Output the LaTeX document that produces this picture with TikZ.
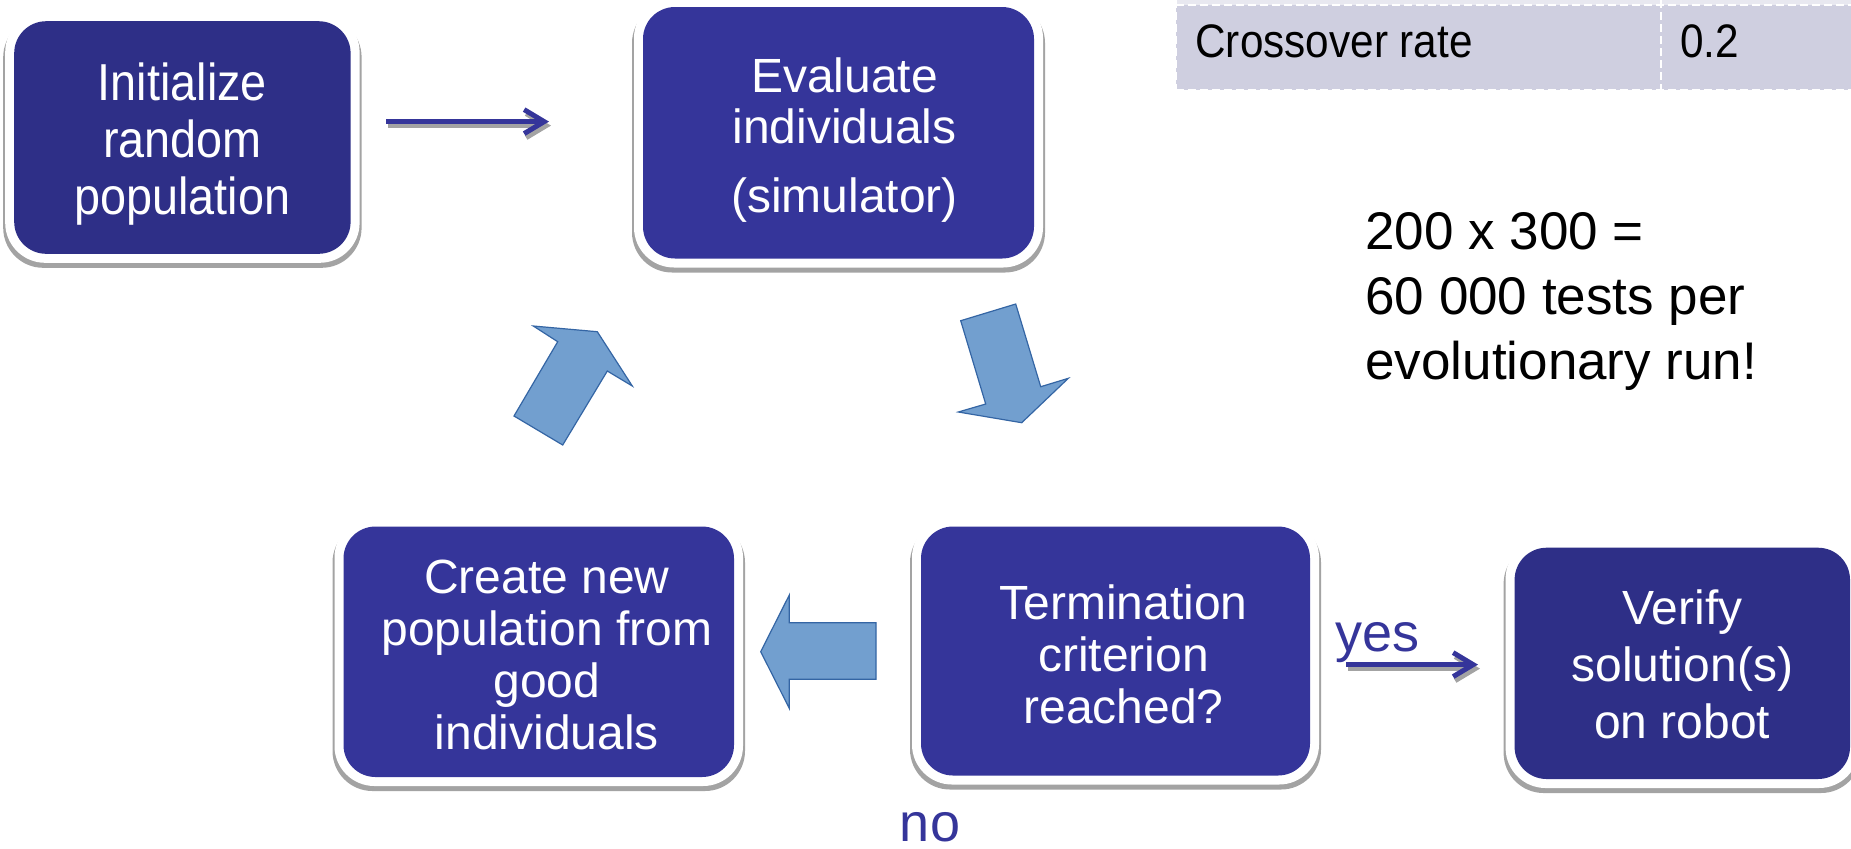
\documentclass[tikz,border=0pt]{standalone}
\usepackage{fontspec}
\setmainfont{Liberation Sans}
\newfontfamily\narrowfont[FakeStretch=0.9]{Liberation Sans}
\usetikzlibrary{arrows.meta,backgrounds}
\definecolor{boxblue}{HTML}{35359A}
\definecolor{boxdark}{HTML}{2E2F87}
\definecolor{shadowgray}{HTML}{A3A3A3}
\definecolor{blockfill}{HTML}{729FCF}
\definecolor{blockline}{HTML}{3465A4}
\definecolor{tablefill}{HTML}{CFCFE0}
\definecolor{tabletop}{HTML}{E8E8F0}
\newcommand{\glowframe}[1]{%
  \fill[shadowgray, rounded corners=20pt] ([xshift=-5.5pt,yshift=-7pt]#1.south west) rectangle ([xshift=5.5pt,yshift=2pt]#1.north east);
  \fill[white, rounded corners=20pt] ([xshift=-4.5pt,yshift=-4.5pt]#1.south west) rectangle ([xshift=4.5pt,yshift=4.5pt]#1.north east);}
\begin{document}
\begin{tikzpicture}[x=0.5pt,y=-0.5pt,
  flowbox/.style={rounded corners=16pt, fill=boxblue, inner sep=0pt, outer sep=0pt},
  boxtext/.style={text=white, align=center, inner sep=0pt, font=\fontsize{24}{26}\selectfont},
  flowline/.style={draw=boxblue, line width=2.5pt, -{Straight Barb[length=10pt,width=12pt]}},
  lineshadow/.style={draw=shadowgray, line width=2.5pt, -{Straight Barb[length=10pt,width=12pt]}},
  blockarrow/.style={fill=blockfill, draw=blockline, line width=0.6pt, line join=miter},
  tabletext/.style={font=\narrowfont\fontsize{23.5}{26}\selectfont, anchor=west, inner sep=0pt},
  labeltext/.style={text=boxblue, font=\fontsize{27}{30}\selectfont, inner sep=0pt}
]
\useasboundingbox (0,0) rectangle (1851,848);

% table fragment
\fill[tabletop] (1176,0) rectangle (1851,5);
\fill[tablefill] (1176,5) rectangle (1851,90);
\draw[white, line width=1pt, dash pattern=on 4pt off 2pt] (1176,5) -- (1851,5);
\draw[white, line width=1pt, dash pattern=on 4pt off 2pt] (1176,90) -- (1851,90);
\draw[white, line width=1pt, dash pattern=on 4pt off 2pt] (1176,0) -- (1176,90);
\draw[white, line width=1pt, dash pattern=on 4pt off 2pt] (1661,0) -- (1661,90);
\node[tabletext] (crossover) at (1195,41) {Crossover rate};
\node[tabletext] (rate) at (1680,41) {0.2};

% boxes
\node[flowbox, fill=boxdark, minimum width=168.2pt, minimum height=116.3pt] (init) at (182.4,137.5) {};
\node[flowbox, minimum width=195.5pt, minimum height=125.75pt] (eval) at (838.5,132.75) {};
\node[flowbox, minimum width=194.5pt, minimum height=124.5pt] (term) at (1115.5,651) {};
\node[flowbox, minimum width=195.25pt, minimum height=125.25pt] (create) at (538.75,651.75) {};
\node[flowbox, fill=boxdark, minimum width=167.7pt, minimum height=115.65pt] (verify) at (1682.3,663.35) {};

\node[boxtext, font=\narrowfont\fontsize{26}{28.5}\selectfont] (inittext) at ([yshift=-3.5pt]init.center) {Initialize\\random\\population};
\node[boxtext, font=\fontsize{24}{25.5}\selectfont] (evaltext) at ([xshift=3pt,yshift=-3.5pt]eval.center) {Evaluate\\individuals\\[9pt](simulator)};
\node[boxtext] (termtext) at ([xshift=4pt,yshift=-1.8pt]term.center) {Termination\\criterion\\reached?};
\node[boxtext] (createtext) at ([xshift=4pt,yshift=-1.8pt]create.center) {Create new\\population from\\good\\individuals};
\node[boxtext, font=\fontsize{24}{28.5}\selectfont] (verifytext) at ([yshift=-0.5pt]verify.center) {Verify\\solution(s)\\on robot};

\begin{scope}[on background layer]
\glowframe{init}
\glowframe{eval}
\glowframe{term}
\glowframe{create}
\glowframe{verify}
\end{scope}

% thin arrows
\coordinate (a1s) at (386,121.6);
\coordinate (a1e) at (549,121.6);
\draw[lineshadow] ([shift={(2,4)}]a1s) -- ([shift={(2,4)}]a1e);
\draw[flowline] (a1s) -- (a1e);
\coordinate (a2s) at (1346,664.6);
\coordinate (a2e) at (1478,664.6);
\draw[lineshadow] ([shift={(2,4)}]a2s) -- ([shift={(2,4)}]a2e);
\draw[flowline] (a2s) -- (a2e);

\node[labeltext] (yes) at (1377,643) {yes};
\node[labeltext] (no) at (930,827) {no};

% block arrows
\draw[blockarrow] (533.3,326) -- (597.3,331.7) -- (632.3,386) -- (607.3,371) -- (562.7,445) -- (514,416) -- (557.7,341.7) -- cycle;
\draw[blockarrow] (960.7,320.7) -- (1015.7,304) -- (1040.7,386.7) -- (1068.3,378.3) -- (1021.7,422.7) -- (958.3,412) -- (985.7,404) -- cycle;
\draw[blockarrow] (876,622.7) -- (789.3,622.7) -- (789.3,595) -- (760.7,651.7) -- (789.3,708.3) -- (789.3,679.3) -- (876,679.3) -- cycle;

% note
\node[anchor=west, align=left, inner sep=0pt, font=\fontsize{26.5}{32.5}\selectfont] (note) at (1365,301) {200 x 300 =\\60 000 tests per\\evolutionary run!};
\end{tikzpicture}
\end{document}
